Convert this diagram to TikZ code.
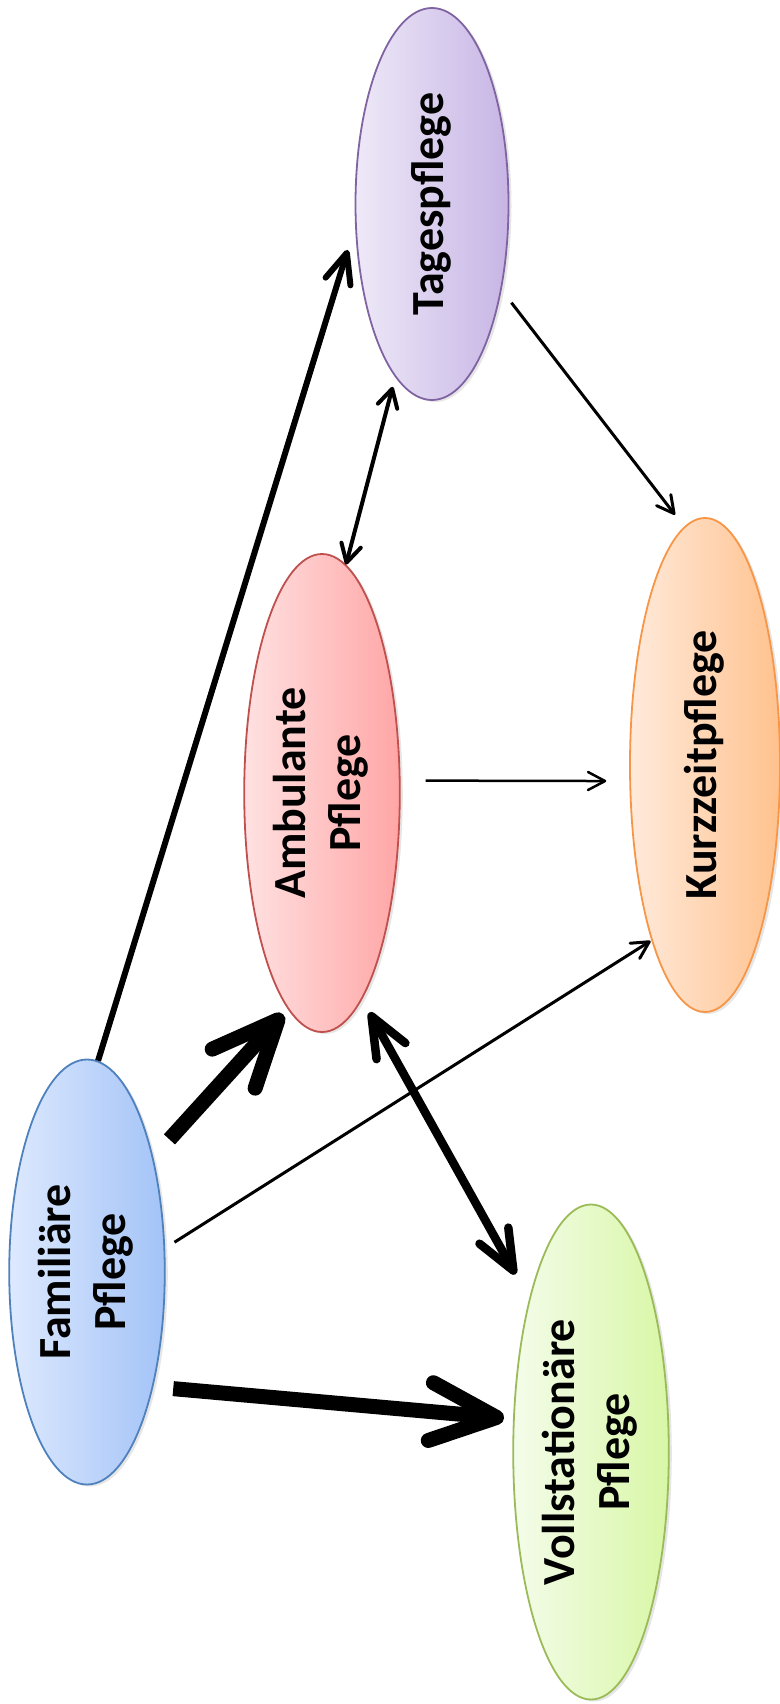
\documentclass[tikz,border=0pt]{standalone}
\usepackage{graphicx}
\usepackage{fontspec}
\setmainfont{Carlito}
\usetikzlibrary{arrows.meta,shapes.geometric,shadows}
\definecolor{famline}{HTML}{4F81BD}
\definecolor{famlight}{HTML}{DDE9FE}
\definecolor{famdark}{HTML}{A3C3F7}
\definecolor{ambline}{HTML}{C0504D}
\definecolor{amblight}{HTML}{FFE1E1}
\definecolor{ambdark}{HTML}{FFA6A6}
\definecolor{tagline}{HTML}{8064A2}
\definecolor{taglight}{HTML}{EEE9F8}
\definecolor{tagdark}{HTML}{C7B5E5}
\definecolor{kurzline}{HTML}{F79646}
\definecolor{kurzlight}{HTML}{FFEADB}
\definecolor{kurzdark}{HTML}{FFC28E}
\definecolor{vollline}{HTML}{9BBB59}
\definecolor{volllight}{HTML}{F4FCEA}
\definecolor{volldark}{HTML}{D8F7A6}
\tikzset{
  care/.style={ellipse, line width=1.8pt, inner sep=0pt, minimum width=153pt,
    font=\fontsize{46}{55}\selectfont\bfseries,
    drop shadow={shadow xshift=3pt, shadow yshift=-2pt, opacity=0.2}},
  thinflow/.style={line width=3pt, -{Straight Barb[round,length=17pt,width=18pt]}},
  midflow/.style={line width=6pt, -{Straight Barb[round,length=30pt,width=26pt]}},
  fatflow/.style={line width=15pt, -{Straight Barb[round,length=66pt,width=58pt]}}
}
\newcommand{\vlabel}[1]{\rotatebox{90}{\begin{tabular}{@{}c@{}}#1\end{tabular}}}
\begin{document}
\begin{tikzpicture}[x=1pt,y=-1pt]
  \useasboundingbox (0,0) rectangle (779,1704);
  % care forms
  \node[care, minimum height=392pt, draw=tagline, left color=taglight, right color=tagdark] (tag) at (432,204) {\vlabel{Tagespflege}};
  \node[care, minimum height=478pt, minimum width=155pt, draw=ambline, left color=amblight, right color=ambdark] (amb) at (322,793) {\vlabel{Ambulante\\Pflege}};
  \node[care, minimum height=494pt, minimum width=150pt, draw=kurzline, left color=kurzlight, right color=kurzdark] (kurz) at (705,765) {\vlabel{Kurzzeitpflege}};
  \node[care, minimum height=425pt, draw=famline, left color=famlight, right color=famdark] (fam) at (87,1272) {\vlabel{Familiäre\\Pflege}};
  \node[care, minimum height=495pt, minimum width=152pt, draw=vollline, left color=volllight, right color=volldark] (voll) at (591,1452) {\vlabel{Vollstationäre\\Pflege}};
  % from family care
  \draw[midflow, shorten >=25pt] (fam.87) -- (tag.196);
  \draw[fatflow, shorten <=24pt, shorten >=7pt] (fam.60) -- (amb.261);
  \draw[thinflow, shorten <=11pt, shorten >=1pt] (fam.17) -- (kurz.253);
  \draw[fatflow, shorten <=20pt, shorten >=9pt] (fam.300) -- (voll.157);
  % between the services
  \draw[line width=8.5pt, {Straight Barb[round,length=40pt,width=33pt]}-{Straight Barb[round,length=40pt,width=33pt]}, shorten <=15pt, shorten >=28pt] (amb.281) -- (voll.112);
  \draw[line width=4pt, {Straight Barb[round,length=18pt,width=20pt]}-{Straight Barb[round,length=18pt,width=20pt]}, shorten >=10pt] (amb.84) -- (tag.258);
  \draw[thinflow, shorten <=16pt, shorten >=15pt] (tag.309) -- (kurz.95);
  \draw[thinflow, line width=2.5pt, shorten <=25pt, shorten >=23pt] (amb.9) -- (kurz.192);
\end{tikzpicture}
\end{document}
